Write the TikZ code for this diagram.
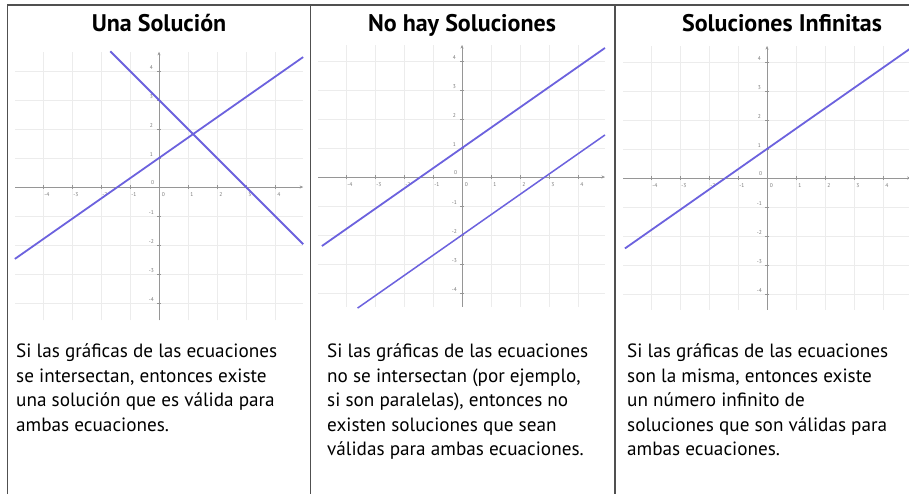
\documentclass[tikz,border=0pt]{standalone}
\usepackage{fontspec}
\setmainfont{PT Sans}
\usetikzlibrary{arrows.meta}
\definecolor{lineblue}{RGB}{108,98,222}
\definecolor{framegray}{RGB}{80,80,80}
\definecolor{gridgray}{RGB}{236,236,236}
\definecolor{axisgray}{RGB}{150,150,150}
\definecolor{labgray}{RGB}{120,120,120}
\tikzset{
  frameline/.style={draw=framegray, line width=1.4pt},
  gridline/.style={draw=gridgray, line width=0.7pt},
  axisline/.style={draw=axisgray, line width=0.8pt},
  tickmark/.style={draw=axisgray, line width=0.6pt},
  eqline/.style={draw=lineblue, line width=1.8pt},
  ticklab/.style={font=\fontsize{5.5}{6}\selectfont, text=labgray, inner sep=0pt},
  titletext/.style={font=\fontsize{24}{28}\selectfont\bfseries, anchor=base, inner sep=0pt},
  bodytext/.style={font=\fontsize{19.2}{24.5}\selectfont, align=left, anchor=base west, inner sep=0pt}
}
% #1 ox, #2 oy, #3 xmax, #4 ymin, #5 ymax
\newcommand{\mygraph}[5]{%
\begin{scope}[shift={(#1,#2)}, x=29pt, y=29pt]
  \foreach \i in {-4,...,4} {
    \draw[gridline] (\i,#4) -- (\i,#5);
    \draw[gridline] (-4.95,\i) -- (#3,\i);
  }
  \draw[axisline,-{Stealth[length=3.5pt,width=3pt]}] (-4.95,0) -- (#3,0);
  \draw[axisline,-{Stealth[length=3.5pt,width=3pt]}] (0,#4) -- (0,#5);
  \foreach \i in {-4,-3,-2,-1,1,2,3,4} {
    \draw[tickmark] (\i,-0.06) -- (\i,0.06);
    \draw[tickmark] (-0.06,\i) -- (0.06,\i);
    \node[ticklab] at (\i+0.13,-0.26) {\i};
    \node[ticklab] at (-0.26,\i+0.12) {\i};
  }
  \node[ticklab] at (0.15,-0.26) {0};
  \node[ticklab] at (-0.22,0.15) {0};
\end{scope}}
\begin{document}
\begin{tikzpicture}[x=1pt, y=-1pt]
  \useasboundingbox[fill=white] (0,0) rectangle (909,500);

  % graphs
  \mygraph{159}{187}{4.97}{-4.6}{4.66}
  \mygraph{462}{177}{4.93}{-4.48}{4.55}
  \mygraph{767}{178}{4.95}{-4.55}{4.55}

  % lines of panel 1
  \begin{scope}[shift={(159,187)}, x=29pt, y=29pt]
    \coordinate (a1s) at (-4.97,-2.48);
    \coordinate (a1e) at (4.97,4.48);
    \coordinate (b1s) at (-1.68,4.68);
    \coordinate (b1e) at (4.97,-1.97);
  \end{scope}
  \draw[eqline] (a1s) -- (a1e);
  \draw[eqline] (b1s) -- (b1e);

  % lines of panel 2
  \begin{scope}[shift={(462,177)}, x=29pt, y=29pt]
    \coordinate (a2s) at (-4.83,-2.38);
    \coordinate (a2e) at (4.93,4.45);
    \coordinate (b2s) at (-3.6,-4.52);
    \coordinate (b2e) at (4.93,1.45);
  \end{scope}
  \draw[eqline] (a2s) -- (a2e);
  \draw[eqline, line width=1.5pt] (b2s) -- (b2e);

  % line of panel 3
  \begin{scope}[shift={(767,178)}, x=29pt, y=29pt]
    \coordinate (a3s) at (-4.9,-2.43);
    \coordinate (a3e) at (5.05,4.54);
  \end{scope}
  \draw[eqline] (a3s) -- (a3e);

  % frame
  \draw[frameline] (7.5,494) -- (7.5,5) -- (909,5);
  \draw[frameline] (310.5,5) -- (310.5,494);
  \draw[frameline] (615,5) -- (615,494);

  % titles
  \node[titletext] (t1) at (159,32) {Una Solución};
  \node[titletext] (t2) at (462,32) {No hay Soluciones};
  \node[titletext] (t3) at (782,32) {Soluciones Infinitas};

  % body texts (base anchor = baseline of last line)
  \node[bodytext] (d1) at (16,431) {Si las gráficas de las ecuaciones\\se intersectan, entonces existe\\una solución que es válida para\\ambas ecuaciones.};
  \node[bodytext] (d2) at (327,455.5) {Si las gráficas de las ecuaciones\\no se intersectan (por ejemplo,\\si son paralelas), entonces no\\existen soluciones que sean\\válidas para ambas ecuaciones.};
  \node[bodytext] (d3) at (627,455.5) {Si las gráficas de las ecuaciones\\son la misma, entonces existe\\un número infinito de\\soluciones que son válidas para\\ambas ecuaciones.};
\end{tikzpicture}
\end{document}
